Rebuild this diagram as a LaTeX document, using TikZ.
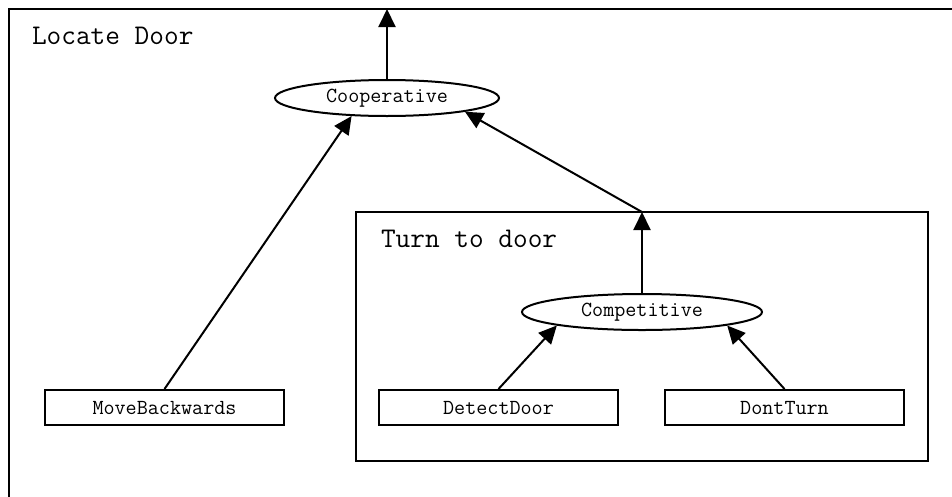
\documentclass[tikz,border=0pt]{standalone}
\usetikzlibrary{arrows.meta,shapes.geometric}

\begin{document}
\begin{tikzpicture}[x=1pt,y=-1pt,
  line width=2pt,
  behaviour/.style={draw,rectangle,minimum width=239pt,minimum height=35pt,
    inner sep=0pt,font=\ttfamily\fontsize{21.5}{21.5}\selectfont},
  arbiter/.style={draw,ellipse,minimum height=36pt,inner sep=0pt,
    font=\ttfamily\fontsize{21.5}{21.5}\selectfont},
  cluster/.style={draw,rectangle,inner sep=0pt},
  title/.style={anchor=base west,inner sep=0pt,font=\ttfamily\fontsize{28.5}{28.5}\selectfont},
  link/.style={-{Triangle[length=18pt,width=17pt]},line width=2pt}]

  \useasboundingbox (0,0) rectangle (952,496);
  \clip (0,0) rectangle (952,496);
  \fill[white] (0,0) rectangle (952,496);

  % outer cluster, running past the page edges
  \draw (960,9) -- (9,9) -- (9,505);
  \coordinate (exit) at (387,9);
  \node[title] (locate) at (31,44.5) {Locate Door};

  % inner cluster
  \node[cluster,minimum width=572pt,minimum height=249pt] (turn) at (641.5,336.5) {};
  \node[title] (turnlbl) at (380,247) {Turn to door};

  % arbiters
  \node[arbiter,minimum width=224pt] (coop) at (387,98) {Cooperative};
  \node[arbiter,minimum width=240pt] (comp) at (642,312) {Competitive};
  \coordinate (turnin) at (642,212);

  % behaviours
  \node[behaviour] (move)   at (164.5,407.5) {MoveBackwards};
  \node[behaviour] (detect) at (498.5,407.5) {DetectDoor};
  \node[behaviour] (dont)   at (784.5,407.5) {DontTurn};

  % connections
  \draw[link] (coop.north) -- (exit);
  \draw[link] (move.north) -- (coop.207);
  \draw[link] (turnin) -- (coop.-10);
  \draw[link] (comp.north) -- (turnin);
  \draw[link] (detect.north) -- (comp.189);
  \draw[link] (dont.north) -- (comp.-9);
\end{tikzpicture}
\end{document}
